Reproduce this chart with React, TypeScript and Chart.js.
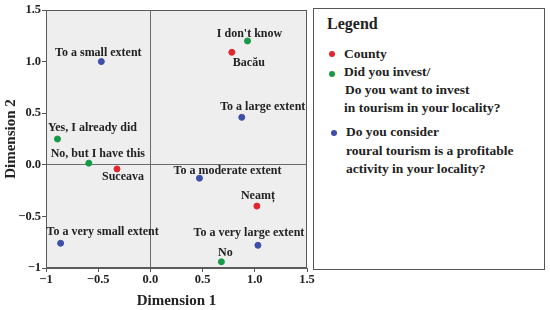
import React, { useEffect, useRef } from "react";
import { Chart, registerables } from "chart.js";
Chart.register(...registerables);

const tickValues = [-1, -0.5, 0, 0.5, 1, 1.5];
const xTickLabels = ["−1", "−0.5", "0.0", "0.5", "1.0", "1.5"];
const yTickLabels = ["−1", "−0.5", "0.0", "0.5", "1.0", "1.5"];

const countyLabels = ["Bacău", "Suceava", "Neamț"];
const countyX = [0.78, -0.32, 1.02];
const countyY = [1.09, -0.04, -0.4];

const investLabels = ["I don't know", "Yes, I already did", "No, but I have this", "No"];
const investX = [0.93, -0.89, -0.59, 0.68];
const investY = [1.2, 0.25, 0.016, -0.94];

const profitLabels = [
  "To a small extent",
  "To a large extent",
  "To a moderate extent",
  "To a very small extent",
  "To a very large extent",
];
const profitX = [-0.47, 0.875, 0.47, -0.86, 1.03];
const profitY = [1.0, 0.46, -0.13, -0.76, -0.78];

// label anchor offsets (px) relative to each point
const countyOffsets = [[17, 11], [6, 8], [1, -10]];
const investOffsets = [[2, -7], [35, -11], [9, -9], [4, -9]];
const profitOffsets = [[-3, -9], [21, -10], [28, -7], [42, -11], [-9, -12]];

const RED = "#e0262f";
const GREEN = "#179a48";
const BLUE = "#3d4fa8";
const SERIF = "'Liberation Serif', 'DejaVu Serif', serif";

const seriesLabels = [countyLabels, investLabels, profitLabels];
const seriesOffsets = [countyOffsets, investOffsets, profitOffsets];

const bgPlugin = {
  id: "bgPlugin",
  beforeDraw(chart: any) {
    const { ctx, chartArea } = chart;
    ctx.save();
    ctx.fillStyle = "#eeeeee";
    ctx.fillRect(chartArea.left, chartArea.top, chartArea.right - chartArea.left, chartArea.bottom - chartArea.top);
    ctx.restore();
  },
  beforeDatasetsDraw(chart: any) {
    const { ctx, chartArea } = chart;
    ctx.save();
    ctx.strokeStyle = "#5a5a5a";
    ctx.lineWidth = 1;
    ctx.strokeRect(chartArea.left + 0.5, chartArea.top + 0.5, chartArea.right - chartArea.left - 1, chartArea.bottom - chartArea.top - 1);
    ctx.restore();
  },
};

const labelPlugin = {
  id: "labelPlugin",
  afterDatasetsDraw(chart: any) {
    const { ctx } = chart;
    ctx.save();
    ctx.font = `bold 12px ${SERIF}`;
    ctx.fillStyle = "#222";
    ctx.textAlign = "center";
    ctx.textBaseline = "middle";
    chart.data.datasets.forEach((ds: any, di: number) => {
      const meta = chart.getDatasetMeta(di);
      meta.data.forEach((el: any, i: number) => {
        const off = seriesOffsets[di][i];
        ctx.fillText(seriesLabels[di][i], el.x + off[0], el.y + off[1]);
      });
    });
    ctx.restore();
  },
};

function toPoints(xs: number[], ys: number[]) {
  return xs.map((x, i) => ({ x, y: ys[i] }));
}

function tickLabel(labels: string[]) {
  return (value: any) => {
    const i = tickValues.findIndex((t) => Math.abs(t - Number(value)) < 1e-6);
    return i >= 0 ? labels[i] : "";
  };
}

export default function App() {
  const ref = useRef<HTMLCanvasElement | null>(null);
  useEffect(() => {
    document.body.style.margin = "0";
    const chart = new Chart(ref.current!, {
      type: "scatter",
      data: {
        datasets: [
          { label: "County", data: toPoints(countyX, countyY), backgroundColor: RED, borderColor: RED, pointRadius: 3 },
          { label: "Did you invest", data: toPoints(investX, investY), backgroundColor: GREEN, borderColor: GREEN, pointRadius: 3 },
          { label: "Profitable", data: toPoints(profitX, profitY), backgroundColor: BLUE, borderColor: BLUE, pointRadius: 3 },
        ],
      },
      options: {
        animation: false,
        responsive: true,
        maintainAspectRatio: false,
        layout: { padding: { left: 0, top: 10, right: 243, bottom: 0 } },
        plugins: { legend: { display: false }, tooltip: { enabled: false } },
        scales: {
          x: {
            type: "linear",
            min: -1,
            max: 1.5,
            ticks: { stepSize: 0.5, callback: tickLabel(xTickLabels), font: { family: SERIF, size: 12.5, weight: "bold" }, color: "#222", padding: 0, maxRotation: 0 },
            grid: {
              color: (c: any) => (c.tick && c.tick.value === 0 ? "#6b6b6b" : "transparent"),
              tickColor: "#555",
              tickLength: 4,
            },
            border: { display: true, color: "#5a5a5a" },
            title: { display: true, text: "Dimension 1", font: { family: SERIF, size: 15, weight: "bold" }, color: "#222", padding: { top: 3, bottom: 0 } },
            afterFit: (s: any) => { s.height = 42; },
          },
          y: {
            type: "linear",
            min: -1,
            max: 1.5,
            ticks: { stepSize: 0.5, callback: tickLabel(yTickLabels), font: { family: SERIF, size: 12.5, weight: "bold" }, color: "#222", padding: 1 },
            grid: {
              color: (c: any) => (c.tick && c.tick.value === 0 ? "#6b6b6b" : "transparent"),
              tickColor: "#555",
              tickLength: 4,
            },
            border: { display: true, color: "#5a5a5a" },
            title: { display: true, text: "Dimension 2", font: { family: SERIF, size: 15, weight: "bold" }, color: "#222", padding: { top: 2, bottom: 0 } },
            afterFit: (s: any) => { s.width = 46; },
          },
        },
      },
      plugins: [bgPlugin, labelPlugin],
    } as any);
    return () => chart.destroy();
  }, []);

  const lineStyle = (left: number, top: number): React.CSSProperties => ({
    position: "absolute",
    left,
    top: top - 9,
    lineHeight: "18px",
    whiteSpace: "nowrap",
    fontFamily: SERIF,
    fontWeight: "bold",
    fontSize: 13.5,
    color: "#222",
  });
  const dot = (left: number, top: number, color: string): React.CSSProperties => ({
    position: "absolute",
    left: left - 3,
    top: top - 3,
    width: 6,
    height: 6,
    borderRadius: "50%",
    background: color,
  });

  return (
    <div style={{ position: "relative", width: 550, height: 310, background: "#fff" }}>
      <canvas ref={ref} />
      <div
        style={{
          position: "absolute",
          left: 313,
          top: 8,
          width: 232,
          height: 262,
          border: "1.5px solid #555",
          boxSizing: "border-box",
          background: "#fff",
        }}
      >
        <div style={{ ...lineStyle(13, 15), fontSize: 16, lineHeight: "20px", top: 5 }}>Legend</div>
        <div style={dot(18, 45, RED)} />
        <div style={lineStyle(30, 45)}>County</div>
        <div style={dot(18, 65, GREEN)} />
        <div style={lineStyle(30, 63)}>Did you invest/</div>
        <div style={lineStyle(31, 81)}>Do you want to invest</div>
        <div style={lineStyle(30, 99)}>in tourism in your locality?</div>
        <div style={dot(20, 124, BLUE)} />
        <div style={lineStyle(32, 123)}>Do you consider</div>
        <div style={lineStyle(32, 142)}>roural tourism is a profitable</div>
        <div style={lineStyle(32, 160)}>activity in your locality?</div>
      </div>
    </div>
  );
}
